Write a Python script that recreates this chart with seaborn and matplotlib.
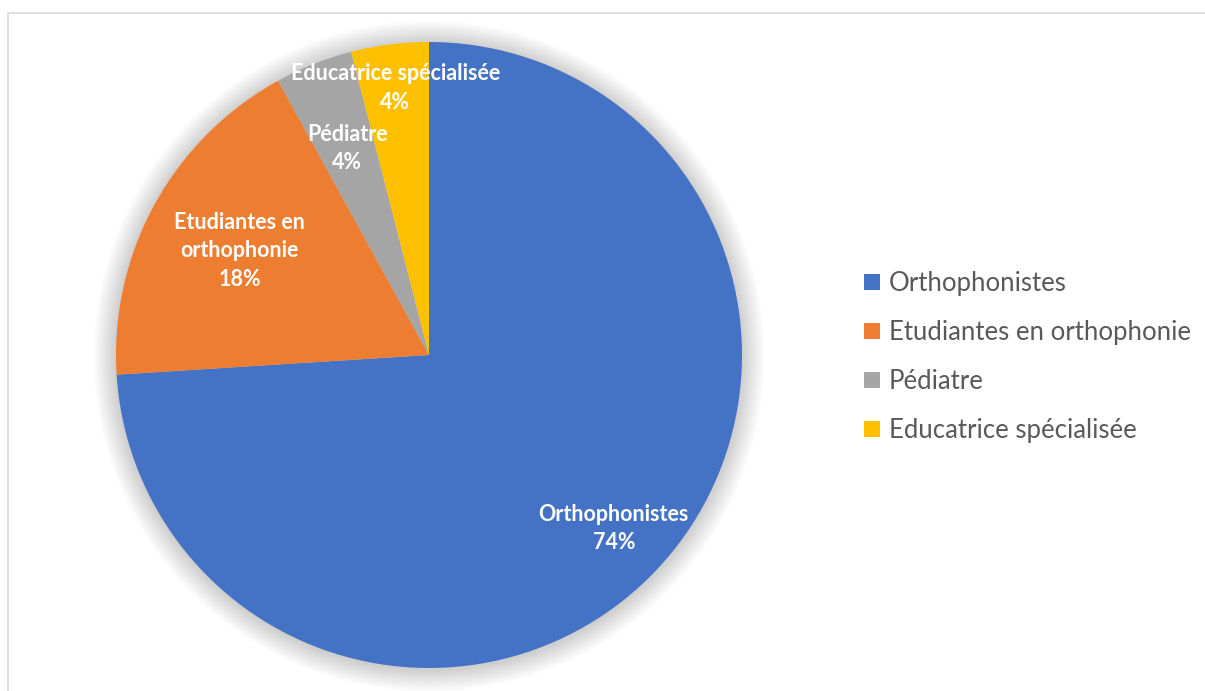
import numpy as np
import matplotlib.pyplot as plt
import seaborn as sns
from matplotlib.patches import Circle, Rectangle

sns.set_theme(style="white")
plt.rcParams['font.family'] = ['Lato', 'DejaVu Sans']

# données
categories = ["Orthophonistes", "Etudiantes en orthophonie", "Pédiatre", "Educatrice spécialisée"]
valeurs = [74, 18, 4, 4]
etiquettes = ["Orthophonistes", "Etudiantes en\northophonie", "Pédiatre", "Educatrice spécialisée"]
couleurs = ["#4472C4", "#ED7D31", "#A5A5A5", "#FFC000"]

W, H = 1205, 691
fig = plt.figure(figsize=(W / 100, H / 100), dpi=100)
fig.patch.set_facecolor("white")

# cadre gris clair
fig.add_artist(Rectangle((8 / W, -0.1), 1.2, 1 - 13 / H + 0.1, transform=fig.transFigure,
                         fill=False, edgecolor="#D9D9D9", linewidth=1.2))

cx, cy, r = 429, 355, 313
ax = fig.add_axes([(cx - r) / W, (H - cy - r) / H, 2 * r / W, 2 * r / H])
ax.axis("off")

# ombre douce autour du camembert
for i in range(16):
    rr = 1.0 + 0.0045 * (16 - i)
    ax.add_patch(Circle((0.0, -0.004), rr, facecolor="black", alpha=0.01,
                        edgecolor="none", zorder=0, clip_on=False))

wedges, _ = ax.pie(valeurs, colors=couleurs, startangle=90, counterclock=False,
                   radius=1, wedgeprops=dict(linewidth=0))
for w in wedges:
    w.set_zorder(2)
ax.set_xlim(-1, 1)
ax.set_ylim(-1, 1)
ax.set_aspect("equal")

# étiquettes de données
rayons = [0.81, 0.69, 0.71, 0.86]
total = sum(valeurs)
for w, lab, v, rl in zip(wedges, etiquettes, valeurs, rayons):
    ang = np.deg2rad((w.theta1 + w.theta2) / 2)
    x, y = rl * np.cos(ang), rl * np.sin(ang)
    ax.text(x, y, f"{lab}\n{round(100 * v / total)}%", ha="center", va="center",
            color="white", fontsize=15.5, fontweight="bold", linespacing=1.45, zorder=5)

fig.legend(wedges, categories, loc="upper left", bbox_to_anchor=(841 / W, 1 - 248 / H),
           frameon=False, fontsize=18.5, labelcolor="#595959", handlelength=0.6,
           handleheight=0.6, handletextpad=0.35, labelspacing=0.93)

fig.savefig("out.png", dpi=100, facecolor="white")
